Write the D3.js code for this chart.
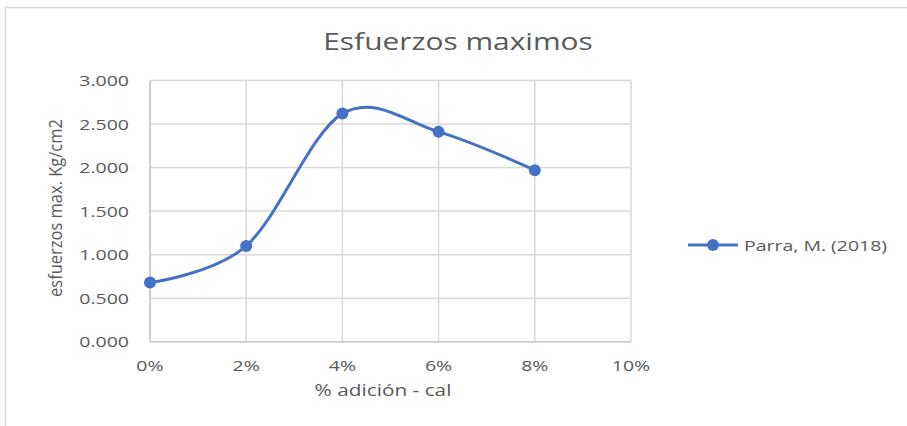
<!DOCTYPE html>
<html>
<head>
<meta charset="utf-8">
<script src="https://cdn.jsdelivr.net/npm/d3@7"></script>
<style>
  html, body { margin: 0; padding: 0; background: #fff; }
  svg { display: block; }
  text { font-family: "Open Sans", "Liberation Sans", sans-serif; fill: #595959; }
</style>
</head>
<body>
<svg id="chart" width="907" height="426"></svg>
<script>
// Series data
const categories = [0, 0.02, 0.04, 0.06, 0.08];
const values = [0.68, 1.10, 2.62, 2.41, 1.97];
const seriesName = "Parra, M. (2018)";
const xTicks = [0, 0.02, 0.04, 0.06, 0.08, 0.10];
const yTicks = [0, 0.5, 1.0, 1.5, 2.0, 2.5, 3.0];
const titleText = "Esfuerzos maximos";
const xTitle = "% adición - cal";
const yTitle = "esfuerzos max. Kg/cm2";

const svg = d3.select("#chart");
const W = 907, H = 426;
const plot = { left: 150, right: 631, top: 80.5, bottom: 341.7 };
const blue = "#4472C4";
const grid = "#d9d9d9";
const stretch = 1.3; // horizontal text scale

// Chart frame
svg.append("rect")
  .attr("x", 5.5).attr("y", 7.5)
  .attr("width", W + 10).attr("height", H + 10)
  .attr("fill", "#fff").attr("stroke", grid).attr("stroke-width", 1.5);

const x = d3.scaleLinear().domain([0, 0.10]).range([plot.left, plot.right]);
const y = d3.scaleLinear().domain([0, 3]).range([plot.bottom, plot.top]);

// Gridlines
svg.append("g").selectAll("line.h").data(yTicks).join("line")
  .attr("x1", plot.left).attr("x2", plot.right)
  .attr("y1", d => y(d)).attr("y2", d => y(d))
  .attr("stroke", grid).attr("stroke-width", 1.5);
svg.append("g").selectAll("line.v").data(xTicks).join("line")
  .attr("x1", d => x(d)).attr("x2", d => x(d))
  .attr("y1", plot.top).attr("y2", plot.bottom)
  .attr("stroke", grid).attr("stroke-width", 1.5);

// Axis lines
svg.append("line")
  .attr("x1", plot.left).attr("x2", plot.left)
  .attr("y1", plot.top).attr("y2", plot.bottom)
  .attr("stroke", "#c8c8c8").attr("stroke-width", 1.5);
svg.append("line")
  .attr("x1", plot.left).attr("x2", plot.right)
  .attr("y1", plot.bottom).attr("y2", plot.bottom)
  .attr("stroke", "#c8c8c8").attr("stroke-width", 1.5);

function stretchedText(g, tx, ty, anchor, size, txt) {
  const t = g.append("g").attr("transform", `translate(${tx},${ty}) scale(${stretch},1)`);
  return t.append("text").attr("text-anchor", anchor).attr("font-size", size).text(txt);
}

// Y tick labels
const yFmt = d3.format(".3f");
yTicks.forEach(v => {
  stretchedText(svg, 129, y(v) + 5.5, "end", 15, yFmt(v));
});

// X tick labels
const xFmt = d3.format(".0%");
xTicks.forEach(v => {
  stretchedText(svg, x(v), 371, "middle", 15, xFmt(v));
});

// Title
stretchedText(svg, 458, 49.5, "middle", 23, titleText);

// Axis titles
stretchedText(svg, 383, 396, "middle", 16, xTitle);
{
  const g = svg.append("g").attr("transform", `translate(62,208) rotate(-90) scale(1,1.15)`);
  g.append("text").attr("text-anchor", "middle").attr("font-size", 16.5)
    .attr("font-family", "Liberation Sans Narrow, Liberation Sans, sans-serif").text(yTitle);
}

// Smoothed series line
const data = categories.map((c, i) => ({ c, v: values[i] }));
const line = d3.line().x(d => x(d.c)).y(d => y(d.v)).curve(d3.curveCardinal.tension(0));
svg.append("path").datum(data)
  .attr("d", line).attr("fill", "none")
  .attr("stroke", blue).attr("stroke-width", 3).attr("stroke-linecap", "round");
svg.append("g").selectAll("circle").data(data).join("circle")
  .attr("cx", d => x(d.c)).attr("cy", d => y(d.v)).attr("r", 6)
  .attr("fill", blue);

// Legend
const lg = svg.append("g").attr("transform", "translate(688,245)");
lg.append("line").attr("x1", 0).attr("x2", 50).attr("y1", 0).attr("y2", 0)
  .attr("stroke", blue).attr("stroke-width", 3);
lg.append("circle").attr("cx", 25).attr("cy", 0).attr("r", 6).attr("fill", blue);
stretchedText(lg, 56, 5.5, "start", 15, seriesName);
</script>
</body>
</html>
